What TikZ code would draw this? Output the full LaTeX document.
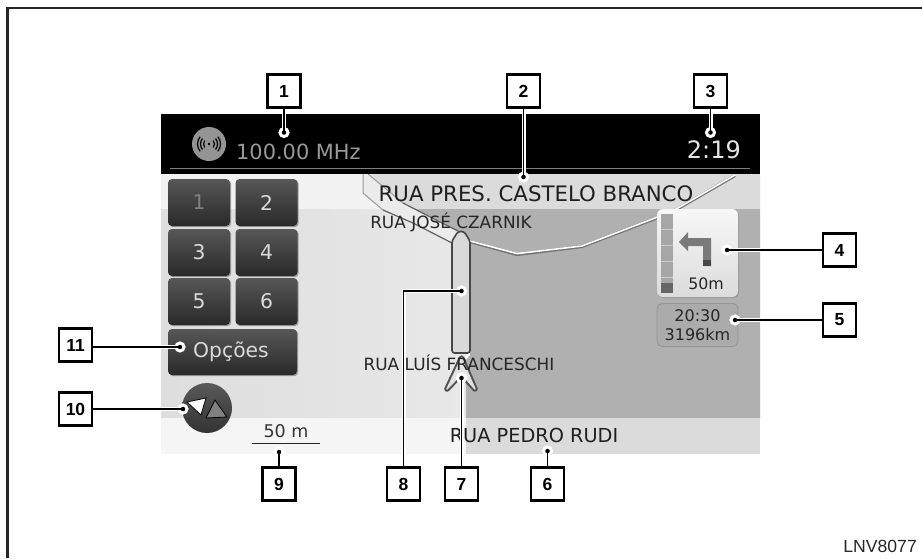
\documentclass[tikz,border=0pt]{standalone}
\usepackage{fontspec}
\setmainfont{DejaVu Sans}
\newfontfamily\lblfont{Liberation Sans}
\usetikzlibrary{shadows}
\tikzset{
  x=1pt,y=-1pt,
  numbox/.style={draw=black,fill=white,line width=2.2pt,minimum size=33pt,inner sep=0pt,font=\lblfont\bfseries\fontsize{17.5}{17.5}\selectfont,text=black},
  dotmark/.style={circle,draw=white,line width=3pt,fill=black,minimum size=8pt,inner sep=0pt,outer sep=0pt},
  conn/.style={line width=1.2pt,draw=black,preaction={draw=white,line width=4pt,shorten >=5pt}},
  keybtn/.style={rounded corners=4pt,top color=black!66,bottom color=black!84,inner sep=0pt,text=black!15,font=\fontsize{20.3}{20.3}\selectfont,drop shadow={shadow xshift=1.2pt,shadow yshift=-1.2pt,fill=black!45,opacity=.8}},
  key/.style={keybtn,minimum width=62pt,minimum height=47pt},
  street/.style={font=\fontsize{16.9}{16.9}\selectfont,text=black!85,inner sep=0pt},
  bigstreet/.style={font=\fontsize{21.3}{21.3}\selectfont,text=black!88,inner sep=0pt},
  roadedge/.style={line width=1.2pt,draw=black!62},
}
\begin{document}
\begin{tikzpicture}
\useasboundingbox (0,0) rectangle (922,558);
% frame
\draw[line width=2.6pt,draw=black!85] (7.5,558) -- (7.5,8) -- (922,8);
% screen background
\fill[black!5] (161,174) rectangle (760,209);
\fill[black!14] (368,174) -- (403,203) -- (411,209) -- (760,209) -- (760,174) -- cycle;
\fill[left color=black!13,right color=black!9] (161,209) rectangle (466,418);
\fill[black!31] (411,209) -- (458,231) -- (470,240) -- (470,355) -- (466,360) -- (466,418) -- (760,418) -- (760,209) -- cycle;
\fill[black!4] (161,418) rectangle (466,454);
\fill[black!14] (466,418) rectangle (760,454);
% roads
\fill[black!8] (363,174) -- (363,193) -- (383,210) -- (413,223) -- (452,243) -- (458,231) -- (403,203) -- (368,174) -- cycle;
\draw[line width=1pt,draw=black!40] (363,174) -- (363,193) -- (383,210);
\draw[roadedge] (383,210) -- (413,223) -- (452,243);
\draw[line width=1pt,draw=black!40] (368,174) -- (403,203);
\draw[roadedge] (403,203) -- (440,222) -- (458,231);
\draw[line width=3pt,draw=black!55,line join=round] (735,175.6) -- (678,208.6) -- (655,218.6) -- (582,246.6) -- (517,254.6) -- (470,241.6);
\draw[line width=1.6pt,draw=white,line join=round] (735,175) -- (678,208) -- (655,218) -- (582,246) -- (517,253.6) -- (470,241);
% route
\draw[line width=1.6pt,draw=black!72,fill=black!15,rounded corners=2.5pt] (452,353) -- (452,241) -- (458,231.5) -- (464,231.5) -- (470,241) -- (470,353) -- cycle;
% position arrow
\draw[line width=5.5pt,draw=black!68,line join=round] (461.5,358) -- (475,389) -- (461.5,374) -- (447,389) -- cycle;
\draw[line width=1.4pt,draw=black!12,fill=black!10,line join=round] (461.5,358) -- (475,389) -- (461.5,374) -- (447,389) -- cycle;
% top bar
\fill[black] (161,114) rectangle (760,174);
\draw[line width=.8pt,draw=black!50] (170,168.5) -- (750,168.5);
\fill[black!42] (209,144) circle[radius=17];
\fill[black] (209,144) circle[radius=1.4];
\begin{scope}[line width=1.2pt,draw=black]
  \foreach \r in {5.5,8.5,11.5}{
    \draw (209,144)++(140:\r) arc[start angle=140,end angle=220,radius=\r];
    \draw (209,144)++(-40:\r) arc[start angle=-40,end angle=40,radius=\r];
  }
\end{scope}
\node[inner sep=0pt,anchor=base west,text=black!40,font=\fontsize{20.9}{20.9}\selectfont] (freq) at (236,159) {100.00 MHz};
\node[inner sep=0pt,anchor=base east,text=black!10,font=\fontsize{24}{24}\selectfont] (clock) at (741,158) {2:19};
% street labels
\node[bigstreet] (s1) at (536,194) {RUA PRES. CASTELO BRANCO};
\node[street] (s2) at (451,222) {RUA JOSÉ CZARNIK};
\node[street] (s3) at (459,363) {RUA LUÍS FRANCESCHI};
\node[bigstreet,font=\fontsize{19.3}{19.3}\selectfont] (s4) at (534,435) {RUA PEDRO RUDI};
% keypad
\node[key,text=black!50] (k1) at (199,202.5) {1};
\node[key] (k2) at (266.5,202.5) {2};
\node[key] (k3) at (199,252.5) {3};
\node[key] (k4) at (266.5,252.5) {4};
\node[key] (k5) at (199,301.5) {5};
\node[key] (k6) at (266.5,301.5) {6};
\node[keybtn,minimum width=129pt,minimum height=46pt] (opt) at (232.5,352) {\hspace*{-3pt}Opções};
% compass
\node[circle,minimum size=50pt,inner sep=0pt,top color=black!65,bottom color=black!80] (comp) at (207,408) {};
\draw[line width=.8pt,draw=black,fill=white,line join=round] (187,402) -- (206,398) -- (201,415) -- cycle;
\draw[line width=.8pt,draw=black,fill=black!50,line join=round] (215,400) -- (227,417) -- (206,418) -- cycle;
% scale
\node[inner sep=0pt,text=black!80,font=\fontsize{17.5}{17.5}\selectfont] (sc) at (286,431.5) {50 m};
\coordinate (scl) at (252,443.5);
\coordinate (scr) at (320,443.5);
\draw[line width=1.8pt,draw=black!85] (scl) -- (scr);
% turn panel
\node[rounded corners=6pt,top color=black!3,bottom color=black!14,minimum width=81pt,minimum height=88pt,inner sep=0pt,drop shadow={shadow xshift=1pt,shadow yshift=-1pt,fill=black!45,opacity=.7}] (turn) at (697.5,253) {};
\fill[black!35] (661,214) rectangle (673,283);
\foreach \yy in {229,245,261,277}{\draw[line width=.7pt,draw=white!80!black] (661,\yy) -- (673,\yy);}
\fill[black!60] (661,283) rectangle (673,293);
\fill[black!52] (711,266) -- (711,238) -- (688,238) -- (688,232) -- (679,242) -- (688,251) -- (688,246) -- (703,246) -- (703,266) -- cycle;
\fill[black!72] (703,260) rectangle (711,266);
\node[inner sep=0pt,text=black!85,font=\fontsize{15.8}{15.8}\selectfont] (dist) at (706,284) {50m};
% eta panel
\node[rounded corners=5pt,fill=black!33,draw=black!42,line width=.8pt,minimum width=81pt,minimum height=43pt,inner sep=0pt,align=center,text=black!85,font=\fontsize{16}{19.5}\selectfont] (eta) at (697.5,325) {20:30\\3196km};
% numbered callouts
\node[numbox] (b1) at (284,91) {1};
\node[numbox] (b2) at (523.5,91) {2};
\node[numbox] (b3) at (710.5,91) {3};
\node[numbox] (b4) at (839.5,250) {4};
\node[numbox] (b5) at (839.5,320) {5};
\node[numbox] (b6) at (547.5,484) {6};
\node[numbox] (b7) at (461.5,484) {7};
\node[numbox] (b8) at (403.5,484) {8};
\node[numbox] (b9) at (279,484) {9};
\node[numbox] (b10) at (75.5,409) {10};
\node[numbox] (b11) at (75.5,345) {11};
\node[dotmark] (d1) at (284,132.5) {};
\node[dotmark] (d2) at (523.5,177) {};
\node[dotmark] (d3) at (710.5,132.5) {};
\node[dotmark] (d4) at (727,250) {};
\node[dotmark] (d5) at (735,320) {};
\node[dotmark] (d6) at (547.5,451) {};
\node[dotmark] (d7) at (461.5,378) {};
\node[dotmark] (d8) at (461.5,291) {};
\node[dotmark] (d9) at (279,452) {};
\node[dotmark] (d10) at (183,409) {};
\node[dotmark] (d11) at (180,347) {};
\draw[conn] (b1) -- (d1.center);
\draw[conn] (b2) -- (d2.center);
\draw[conn] (b3) -- (d3.center);
\draw[conn] (b4) -- (d4.center);
\draw[conn] (b5) -- (d5.center);
\draw[conn] (b6) -- (d6.center);
\draw[conn] (b7) -- (d7.center);
\draw[conn] (b8) |- (d8.center);
\draw[conn] (b9) -- (d9.center);
\draw[conn] (b10) -- (d10.center);
\draw[conn] (b11.east |- d11) -- (d11.center);
% code
\node[inner sep=0pt,anchor=base east,text=black!85,font=\lblfont\fontsize{17.6}{17.6}\selectfont] (code) at (917,552) {LNV8077};
\end{tikzpicture}
\end{document}
